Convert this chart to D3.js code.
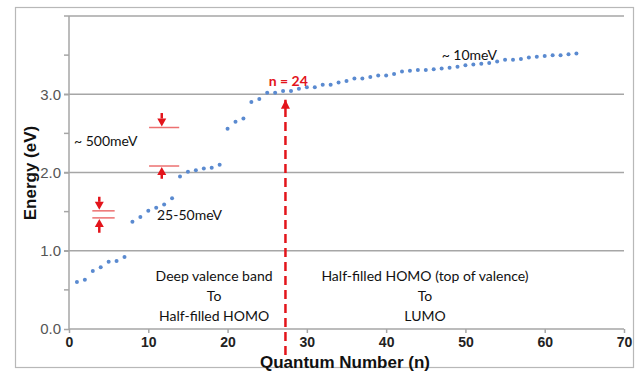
<!DOCTYPE html>
<html>
<head>
<meta charset="utf-8">
<script src="https://cdn.jsdelivr.net/npm/d3@7"></script>
<style>
html,body{margin:0;padding:0;background:#fff;}
svg{display:block;}
</style>
</head>
<body>
<svg id="chart" width="639" height="375"></svg>
<script>
// ---- data ----
const quantumNumbers = [1,2,3,4,5,6,7,8,9,10,11,12,13,14,15,16,17,18,19,20,21,22,23,24,25,26,27,28,29,30,31,32,
  33,34,35,36,37,38,39,40,41,42,43,44,45,46,47,48,49,50,51,52,53,54,55,56,57,58,59,60,61,62,63,64];
const energies = [0.60,0.63,0.74,0.79,0.86,0.87,0.92,1.37,1.43,1.51,1.55,1.59,1.67,1.95,2.01,2.03,2.05,2.06,2.10,
  2.56,2.65,2.69,2.90,2.94,3.02,3.02,3.04,3.04,3.07,3.09,3.09,3.12,3.12,3.15,3.17,3.20,3.20,3.22,3.24,3.24,3.26,
  3.29,3.30,3.31,3.31,3.32,3.33,3.34,3.35,3.37,3.38,3.39,3.40,3.42,3.44,3.44,3.45,3.47,3.48,3.49,3.50,3.50,3.51,3.52];
const xTicks = [0,10,20,30,40,50,60,70];
const xTickLabels = ["0","10","20","30","40","50","60","70"];
const yTicks = [0,1,2,3];
const yTickLabels = ["0.0","1.0","2.0","3.0"];
const yMinorTicks = [0.5,1.5,2.5,3.5];
const xTitle = "Quantum Number (n)";
const yTitle = "Energy  (eV)";
const markerN = 27.3;            // dashed arrow position
const markerLabel = "n = 24";
const leftBlock = ["Deep valence band","To","Half-filled HOMO"];
const rightBlock = ["Half-filled HOMO (top of valence)","To","LUMO"];
const gapLabels = ["~ 500meV","25-50meV","~ 10meV"];

// ---- layout ----
const svg = d3.select("#chart");
const x = d3.scaleLinear().domain([0,70]).range([69,624]);
const y = d3.scaleLinear().domain([0,4]).range([329,16]);
const gridColor = "#a6a6a6";
const red = "#e3141b";
const annFont = "Lato, 'Open Sans', sans-serif";

// outer frame
svg.append("rect").attr("x",15.5).attr("y",7.5).attr("width",618).attr("height",360)
  .attr("fill","none").attr("stroke","#b8b8b8").attr("stroke-width",1.2);

// gridlines (incl. top at 4.0)
svg.append("g").selectAll("line").data([1,2,3,4]).join("line")
  .attr("x1",x(0)-5).attr("x2",x(70)).attr("y1",d=>y(d)).attr("y2",d=>y(d))
  .attr("stroke",gridColor).attr("stroke-width",1.5);

// y axis
const yAxis = d3.axisLeft(y).tickValues(yTicks).tickFormat((d,i)=>yTickLabels[i]).tickSize(5).tickPadding(3);
const gy = svg.append("g").attr("transform",`translate(${x(0)},0)`).call(yAxis);
gy.select(".domain").attr("stroke",gridColor).attr("stroke-width",1.5).attr("d",`M0,${y(4)}V${y(0)}`);
gy.selectAll(".tick line").attr("stroke",gridColor).attr("stroke-width",1.5);
gy.selectAll(".tick text").attr("font-family","'Liberation Sans', Arial, sans-serif")
  .attr("font-size",15).attr("fill","#555");
svg.append("g").selectAll("line").data(yMinorTicks).join("line")
  .attr("x1",x(0)-5).attr("x2",x(0)).attr("y1",d=>y(d)).attr("y2",d=>y(d))
  .attr("stroke",gridColor).attr("stroke-width",1.5);

// x axis
const xAxis = d3.axisBottom(x).tickValues(xTicks).tickFormat((d,i)=>xTickLabels[i]).tickSize(4).tickPadding(4);
const gx = svg.append("g").attr("transform",`translate(0,${y(0)})`).call(xAxis);
gx.select(".domain").attr("stroke",gridColor).attr("stroke-width",1.5).attr("d",`M${x(0)},0H${x(70)}`);
gx.selectAll(".tick line").attr("stroke",gridColor).attr("stroke-width",1.5);
gx.selectAll(".tick text").attr("font-family","'Liberation Sans', Arial, sans-serif")
  .attr("font-size",14).attr("font-weight","bold").attr("fill","#222");

// axis titles
svg.append("text").attr("x",345).attr("y",368).attr("text-anchor","middle")
  .attr("font-family","'Liberation Sans', Arial, sans-serif").attr("font-size",17).attr("font-weight","bold")
  .attr("fill","#111").text(xTitle);
svg.append("text").attr("transform","translate(36,173) rotate(-90)").attr("text-anchor","middle")
  .attr("font-family","'Liberation Sans', Arial, sans-serif").attr("font-size",17).attr("font-weight","bold")
  .attr("fill","#111").text(yTitle);

// data points
svg.append("g").selectAll("circle").data(quantumNumbers).join("circle")
  .attr("cx",d=>x(d)).attr("cy",(d,i)=>y(energies[i])).attr("r",2)
  .attr("fill","#5a8ad0");

// defs: arrowheads
const defs = svg.append("defs");
defs.append("marker").attr("id","ah").attr("viewBox","0 0 10 10").attr("refX",9).attr("refY",5)
  .attr("markerWidth",4).attr("markerHeight",4).attr("orient","auto").attr("markerUnits","strokeWidth")
  .append("path").attr("d","M0,0L10,5L0,10Z").attr("fill",red);

// dashed arrow
svg.append("line").attr("x1",x(markerN)).attr("x2",x(markerN)).attr("y1",355).attr("y2",y(2.93))
  .attr("stroke",red).attr("stroke-width",2.5).attr("stroke-dasharray","9,5");
svg.append("path").attr("d",`M${x(markerN)-4.5},${y(2.93)+9}L${x(markerN)},${y(2.93)}L${x(markerN)+4.5},${y(2.93)+9}Z`)
  .attr("fill",red);
svg.append("text").attr("x",x(25.2)).attr("y",y(3.17)+5).attr("font-family",annFont)
  .attr("font-size",14).attr("font-weight","bold").attr("fill",red).text(markerLabel);

// gap markers (line pairs with converging arrows)
function gapMarker(n0,n1,eTop,eBot,nArrow,eFrom,eTo){
  const g = svg.append("g");
  [eTop,eBot].forEach(e=>g.append("line").attr("x1",x(n0)).attr("x2",x(n1)).attr("y1",y(e)).attr("y2",y(e))
    .attr("stroke","#ec7070").attr("stroke-width",1.5));
  // down arrow to top line
  arrow(g,x(nArrow),y(eFrom),y(eTop)-1);
  arrow(g,x(nArrow),y(eTo),y(eBot)+1);
}
function arrow(g,cx,yFrom,yTo){
  const dir = yTo>yFrom?1:-1;
  const head = 8;
  g.append("line").attr("x1",cx).attr("x2",cx).attr("y1",yFrom).attr("y2",yTo-dir*head)
    .attr("stroke",red).attr("stroke-width",2.5);
  g.append("path").attr("d",`M${cx-4.5},${yTo-dir*head}L${cx},${yTo}L${cx+4.5},${yTo-dir*head}Z`).attr("fill",red);
}
gapMarker(10.1,13.9,2.575,2.083,11.7,2.76,1.92);
gapMarker(2.94,5.76,1.51,1.42,3.82,1.69,1.23);

// gap labels
svg.append("text").attr("x",x(0.63)).attr("y",y(2.40)+5).attr("font-family",annFont).attr("font-size",14)
  .attr("fill","#111").text(gapLabels[0]);
svg.append("text").attr("x",x(11.1)).attr("y",y(1.46)+5).attr("font-family",annFont).attr("font-size",14)
  .attr("fill","#111").text(gapLabels[1]);
svg.append("text").attr("x",x(47.0)).attr("y",y(3.50)+5).attr("font-family",annFont).attr("font-size",14)
  .attr("fill","#111").text(gapLabels[2]);

// region blocks
function block(lines,nCenter){
  svg.append("g").selectAll("text").data(lines).join("text")
    .attr("x",x(nCenter)).attr("y",(d,i)=>281+i*20).attr("text-anchor","middle")
    .attr("font-family",annFont).attr("font-size",14).attr("fill","#111").text(d=>d);
}
block(leftBlock,18.3);
block(rightBlock,44.9);
</script>
</body>
</html>
